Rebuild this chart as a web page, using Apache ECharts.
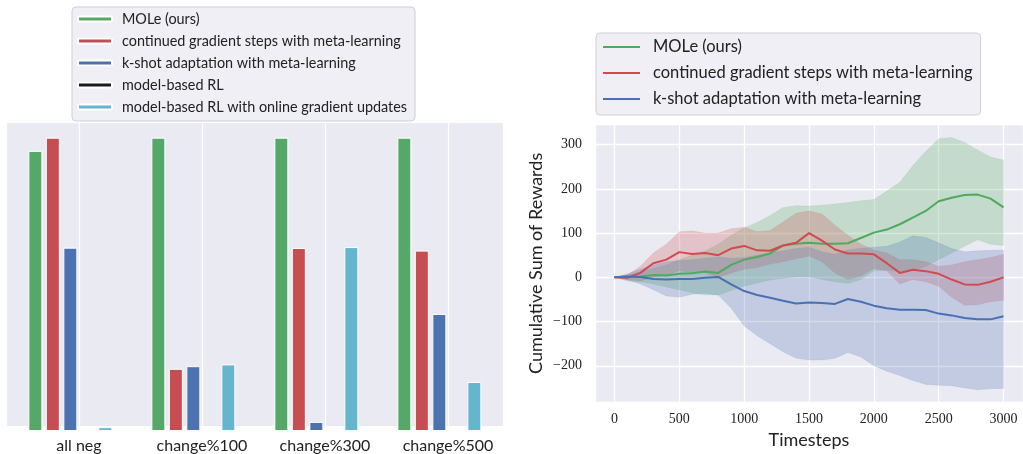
<!DOCTYPE html>
<html><head><meta charset="utf-8">
<script src="https://cdn.jsdelivr.net/npm/echarts@6/dist/echarts.min.js"></script>
<style>html,body{margin:0;padding:0;background:#fff}#c{width:1023px;height:454px}</style>
</head><body><div id="c"></div>
<script>
// ---------- left chart data (normalised bar heights) ----------
const barCategories = ['all neg', 'change%100', 'change%300', 'change%500'];
const barNames = ['MOLe (ours)', 'continued gradient steps with meta-learning', 'k-shot adaptation with meta-learning', 'model-based RL', 'model-based RL with online gradient updates'];
const barMOLe = [0.955, 1.0, 1.0, 1.0];
const barContinued = [1.0, 0.212, 0.624, 0.615];
const barKShot = [0.625, 0.221, 0.031, 0.399];
const barModelBased = [0, 0, 0, 0];
const barModelBasedOnline = [0.013, 0.227, 0.627, 0.167];

// ---------- right chart data ----------
const lineNames = ['MOLe (ours)', 'continued gradient steps with meta-learning', 'k-shot adaptation with meta-learning'];
const timesteps = [0,100,200,300,400,500,600,700,800,900,1000,1100,1200,1300,1400,1500,1600,1700,1800,1900,2000,2100,2200,2300,2400,2500,2600,2700,2800,2900,3000];
const moleMean = [0,1,2,5,4,8,9,13,10,28,40,46,54,72,76,78,76,76,77,89,101,108,120,135,150,172,180,186,187,178,158];
const moleHigh = [0,6,12,20,28,40,50,60,75,95,112,124,140,158,162,161,163,166,169,173,176,195,215,252,285,313,316,305,288,272,265];
const moleLow  = [0,-8,-10,-15,-22,-28,-35,-40,-40,-30,-20,-13,-6,-2,1,2,-5,-10,-14,-5,15,16,13,15,25,40,55,70,85,75,72];
const contMean = [0,-1,10,32,40,57,53,55,50,65,71,61,60,72,78,100,83,63,54,54,52,32,10,17,14,8,-5,-16,-17,-10,0];
const contHigh = [0,5,25,55,75,103,105,100,100,110,113,103,106,125,145,150,143,118,95,75,62,55,40,40,35,25,28,35,40,45,52];
const contLow  = [0,-5,-8,0,5,15,10,10,0,10,18,22,30,35,42,48,35,10,-5,3,20,15,-15,-5,-10,-20,-45,-63,-62,-55,-52];
const kMean = [0,2,1,-4,-5,-4,-4,-1,1,-16,-31,-40,-46,-53,-59,-57,-58,-60,-49,-55,-64,-70,-73,-73,-74,-82,-86,-92,-95,-95,-88];
const kHigh = [0,8,18,28,35,38,40,43,46,43,45,50,55,60,65,68,58,52,62,66,68,70,80,94,90,78,65,58,60,61,62];
const kLow  = [0,-6,-15,-28,-42,-45,-38,-36,-40,-70,-110,-132,-150,-168,-183,-187,-187,-183,-170,-180,-200,-212,-222,-233,-242,-244,-245,-250,-254,-252,-251];

// ---------- styling ----------
const barColors = ['#55A868', '#C44E52', '#4C72B0', '#1a1a1a', '#64B5CD'];
const lineColors = ['#4eaa5c', '#d14a4f', '#4a70b4'];
const BG = '#EAEAF2';
const FONT = 'Lato';

const chart = echarts.init(document.getElementById('c'), null, {renderer: 'canvas'});

const barSeriesData = [barMOLe, barContinued, barKShot, barModelBased, barModelBasedOnline];
const barSeries = barSeriesData.map((arr, i) => ({
  type: 'bar', name: barNames[i], xAxisIndex: 1, yAxisIndex: 1,
  data: arr, barWidth: 14, barGap: '25%',
  itemStyle: {color: barColors[i], borderColor: '#ffffff', borderWidth: 1},
  emphasis: {disabled: true}, animation: false
}));

const pair = (a) => timesteps.map((t, i) => [t, a[i]]);
const triple = (lo, hi) => timesteps.map((t, i) => [t, lo[i], hi[i]]);

function bandRenderer(color) {
  return function (params, api) {
    if (params.dataIndexInside !== 0) return null;
    const n = params.dataInsideLength;
    const upper = [], lower = [];
    for (let k = 0; k < n; k++) {
      const t = api.value(0, k);
      lower.push(api.coord([t, api.value(1, k)]));
      upper.push(api.coord([t, api.value(2, k)]));
    }
    const pts = upper.concat(lower.reverse());
    return {
      type: 'polygon',
      shape: {points: pts},
      style: {fill: color, opacity: 0.25, stroke: color, lineWidth: 0.8, strokeOpacity: 0.5}
    };
  };
}

const bands = [[moleLow, moleHigh], [contLow, contHigh], [kLow, kHigh]];
const means = [moleMean, contMean, kMean];
const rightSeries = [];
bands.forEach((b, i) => {
  rightSeries.push({
    type: 'custom', name: '_band' + i, xAxisIndex: 2, yAxisIndex: 2,
    data: triple(b[0], b[1]), encode: {x: 0, y: [1, 2]},
    renderItem: bandRenderer(lineColors[i]), z: 1, silent: true, animation: false,
    clip: true
  });
});
means.forEach((m, i) => {
  rightSeries.push({
    type: 'line', name: lineNames[i], xAxisIndex: 2, yAxisIndex: 2,
    data: pair(m), symbol: 'none', lineStyle: {width: 2, color: lineColors[i]},
    itemStyle: {color: lineColors[i]}, z: 3, animation: false
  });
});

const minusFmt = (v) => v < 0 ? '\u2212' + Math.abs(v) : String(v);

const option = {
  animation: false,
  backgroundColor: '#ffffff',
  grid: [
    {left: 6, top: 123, width: 497, height: 308, show: true, backgroundColor: BG, borderWidth: 0},
    {left: 8.85, top: 123, width: 492, height: 308, show: false},
    {left: 595, top: 124.7, width: 432, height: 284, show: true, backgroundColor: BG, borderWidth: 0}
  ],
  xAxis: [
    {type: 'value', gridIndex: 0, min: -0.593, max: 3.447,
     axisLine: {show: false}, axisTick: {show: false},
     splitLine: {show: true, lineStyle: {color: '#ffffff', width: 1.2}},
     axisLabel: {show: true, showMinLabel: false, showMaxLabel: false, margin: 12,
       color: '#222', fontFamily: FONT, fontSize: 16,
       formatter: (v) => { const k = Math.round(v); return (Math.abs(v - k) < 1e-6 && barCategories[k]) ? barCategories[k] : ''; }}},
    {type: 'category', gridIndex: 1, data: barCategories, show: false},
    {type: 'value', gridIndex: 2, min: -150, max: 3150,
     axisLine: {show: false}, axisTick: {show: false},
     splitLine: {show: true, lineStyle: {color: '#ffffff', width: 1.3}},
     axisLabel: {showMinLabel: false, showMaxLabel: false, margin: 10, color: '#222',
       fontFamily: 'Liberation Serif', fontSize: 14, formatter: (v) => String(v)},
     name: 'Timesteps', nameLocation: 'middle', nameGap: 27,
     nameTextStyle: {fontFamily: FONT, fontSize: 18, color: '#222'}}
  ],
  yAxis: [
    {type: 'value', gridIndex: 0, min: 0, max: 1, show: false},
    {type: 'value', gridIndex: 1, min: 0, max: 1.05, show: false},
    {type: 'value', gridIndex: 2, min: -282, max: 345,
     axisLine: {show: false}, axisTick: {show: false},
     splitLine: {show: true, lineStyle: {color: '#ffffff', width: 1.3}},
     axisLabel: {showMinLabel: false, showMaxLabel: false, margin: 13, color: '#222',
       fontFamily: 'Liberation Serif', fontSize: 14, formatter: minusFmt},
     name: 'Cumulative Sum of Rewards', nameLocation: 'middle', nameGap: 50, nameRotate: 90,
     nameTextStyle: {fontFamily: FONT, fontSize: 18, color: '#222'}}
  ],
  legend: [
    {orient: 'vertical', left: 72, top: 7, padding: [4, 8, 6, 5], itemGap: 6,
     backgroundColor: 'rgba(238,238,244,0.95)', borderColor: '#cfcfd6', borderWidth: 1, borderRadius: 4,
     icon: 'roundRect', itemWidth: 34, itemHeight: 5, selectedMode: false,
     textStyle: {fontFamily: FONT, fontSize: 14.4, color: '#222', lineHeight: 16, padding: [0, 0, 0, 5]},
     data: barNames.map((n, i) => ({name: n, itemStyle: {color: barColors[i]}}))},
    {orient: 'vertical', left: 596, top: 33, padding: [5, 8, 7, 7], itemGap: 8,
     backgroundColor: 'rgba(238,238,244,0.95)', borderColor: '#cfcfd6', borderWidth: 1, borderRadius: 4,
     icon: 'rect', itemWidth: 37, itemHeight: 2, selectedMode: false,
     textStyle: {fontFamily: FONT, fontSize: 16.5, color: '#222', lineHeight: 18, padding: [0, 0, 0, 8]},
     data: lineNames.map((n, i) => ({name: n, itemStyle: {color: lineColors[i], borderWidth: 0}, lineStyle: {color: lineColors[i]}}))}
  ],
  series: barSeries.concat(rightSeries)
};
chart.setOption(option);
</script>
</body></html>
